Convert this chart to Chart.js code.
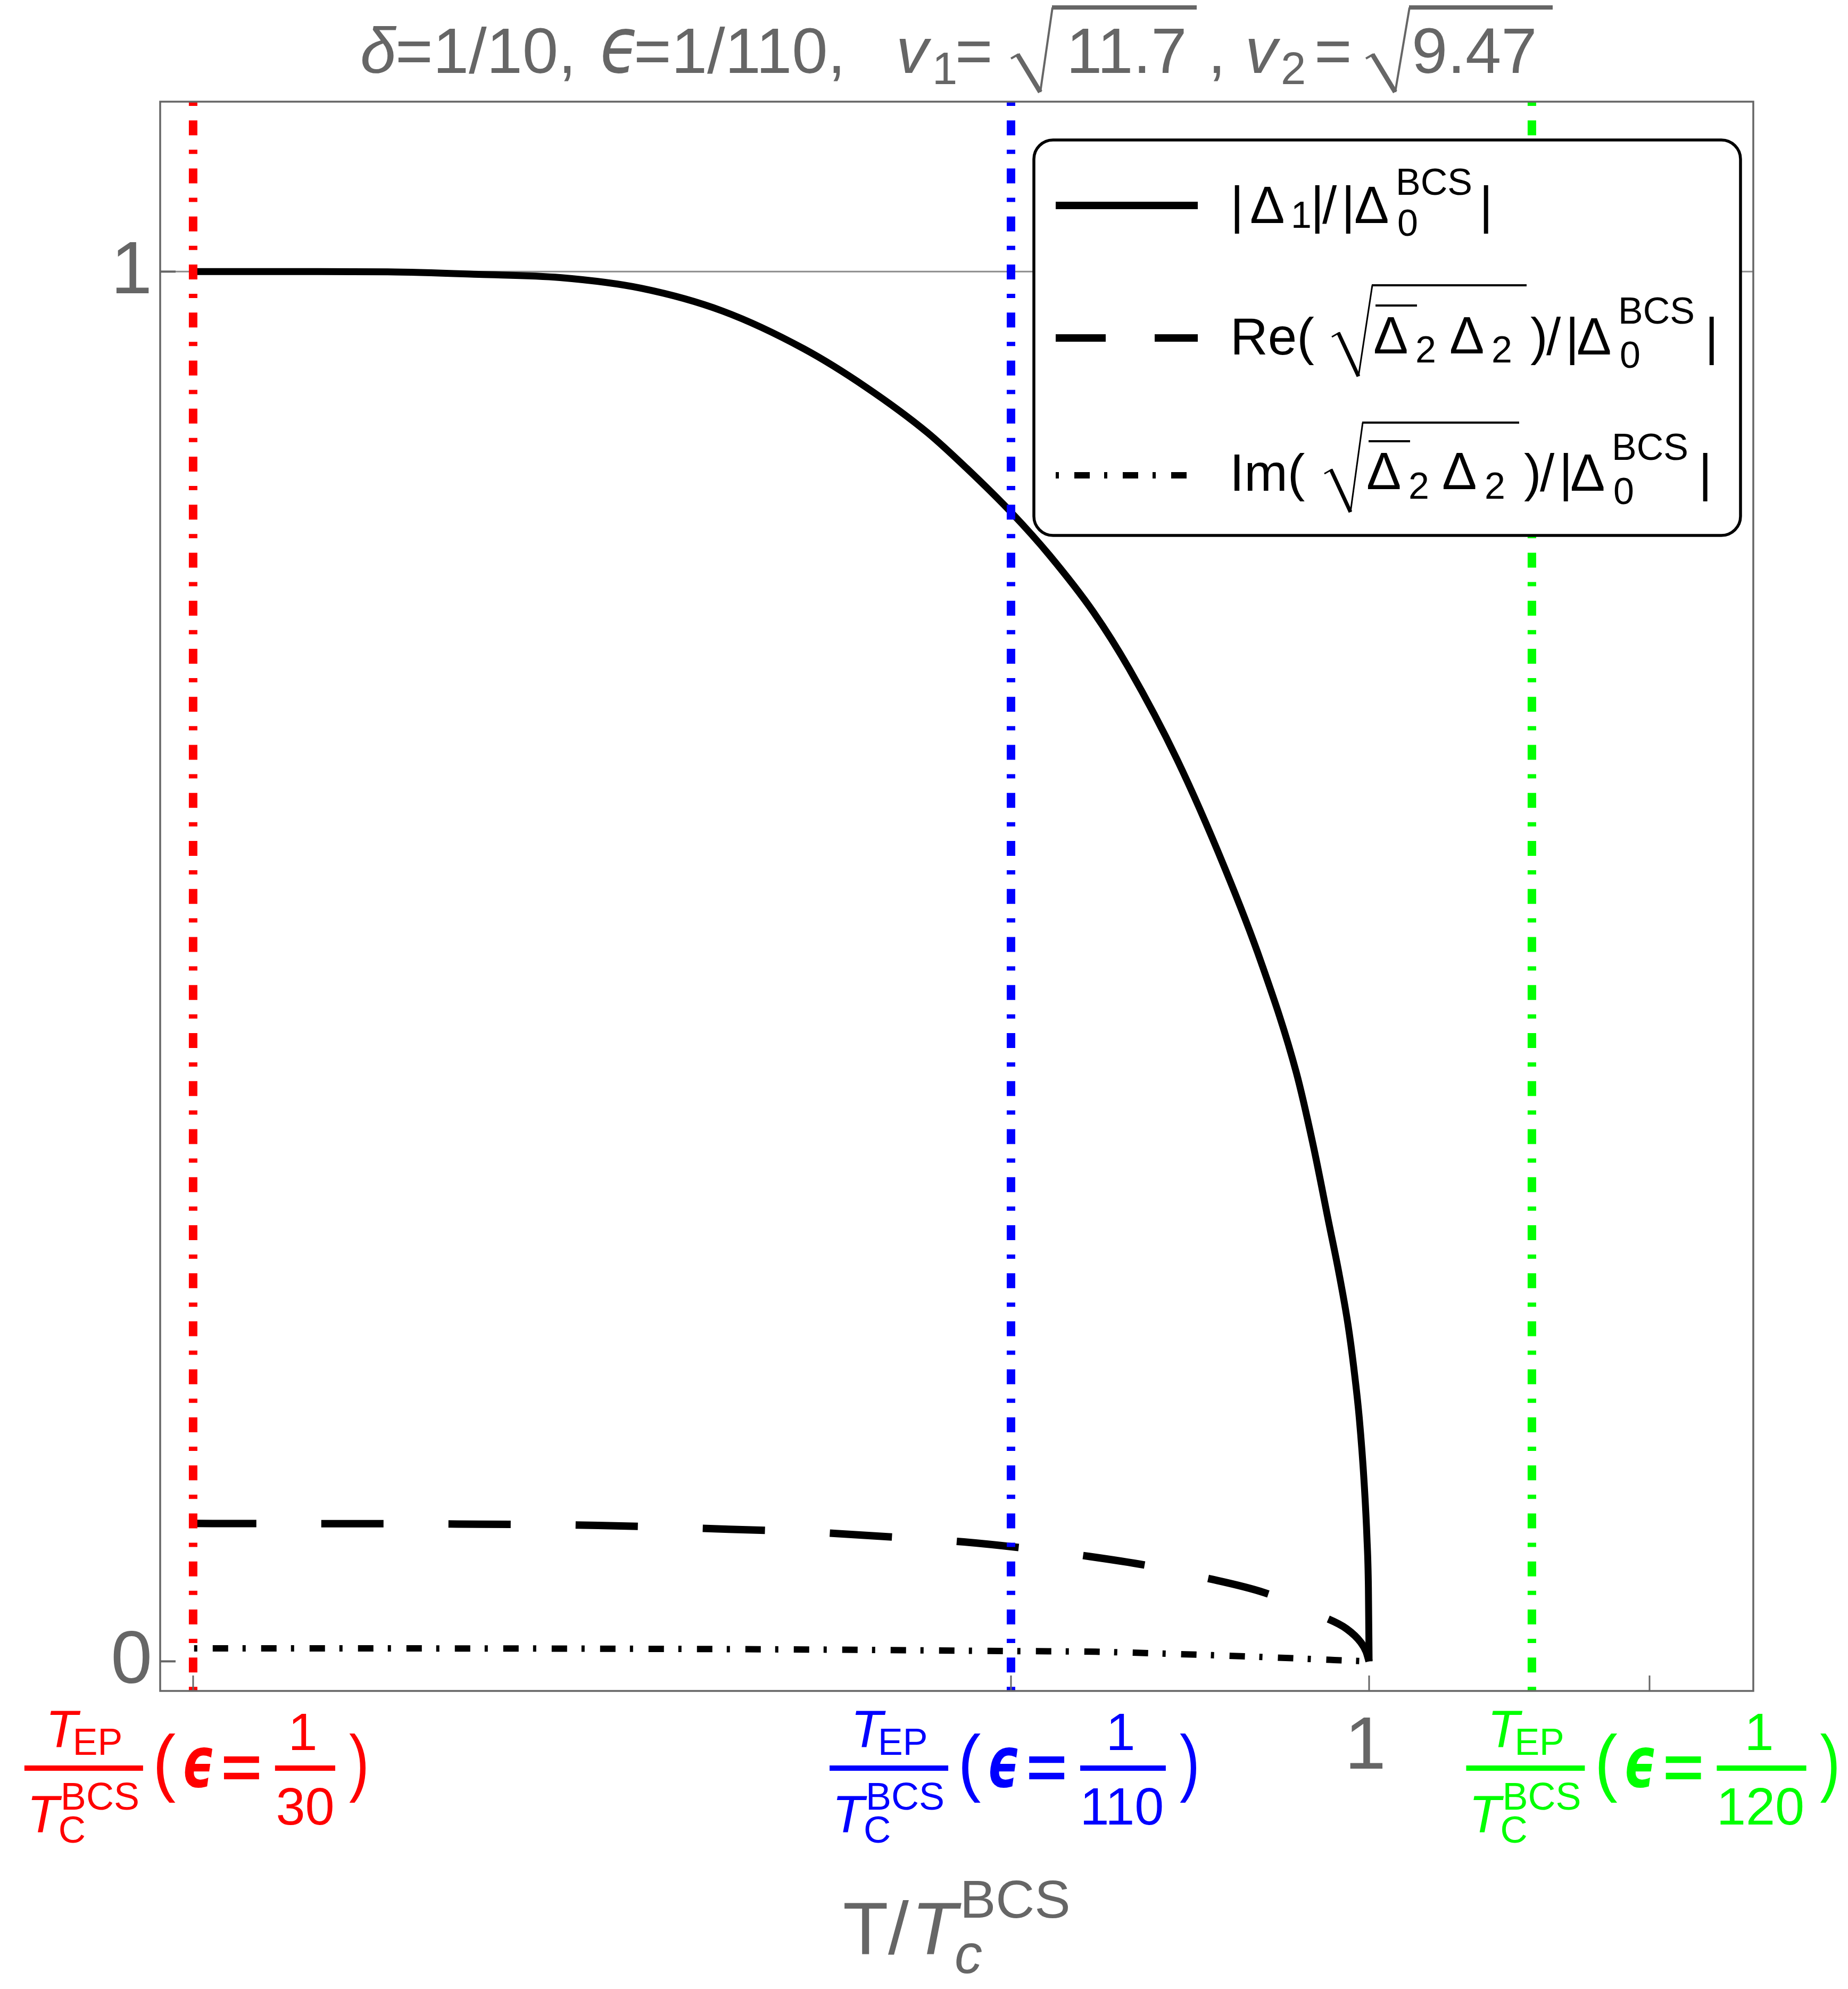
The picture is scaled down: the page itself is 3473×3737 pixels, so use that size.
<!DOCTYPE html>
<html>
<head>
<meta charset="utf-8">
<script src="https://cdn.jsdelivr.net/npm/chart.js@4.4.1/dist/chart.umd.min.js"></script>
<style>
  html, body { margin: 0; padding: 0; background: #fff; }
</style>
</head>
<body>
<canvas id="gapChart" width="3473" height="3737"></canvas>
<script>
// T / Tc^BCS values and the three curves
var tSolid = [0.162, 0.25, 0.30, 0.365, 0.423, 0.481, 0.539, 0.597, 0.641, 0.685, 0.713, 0.745, 0.772, 0.8034, 0.829, 0.863, 0.897, 0.923, 0.948, 0.960, 0.9715, 0.978, 0.985, 0.989, 0.993, 0.9965, 0.9985, 0.9995, 1.0]
var gapAbs = [1.0, 1.0, 0.9998, 0.998, 0.9957, 0.988, 0.9716, 0.9444, 0.917, 0.8842, 0.8585, 0.8265, 0.796, 0.755, 0.714, 0.649, 0.571, 0.503, 0.424, 0.372, 0.3144, 0.282, 0.242, 0.212, 0.175, 0.128, 0.088, 0.053, 0.0]

var tRe = [0.162, 0.25, 0.35, 0.45, 0.53, 0.60, 0.66, 0.711, 0.756, 0.801, 0.846, 0.881, 0.925, 0.966, 0.984, 0.994, 0.998, 1.0]
var gapRe = [0.0992, 0.0991, 0.0988, 0.0978, 0.0955, 0.093, 0.0895, 0.0859, 0.0812, 0.0754, 0.0682, 0.0606, 0.0495, 0.0326, 0.0234, 0.0138, 0.0069, 0.0]

var tIm = [0.162, 0.30, 0.45, 0.60, 0.669, 0.745, 0.805, 0.858, 0.912, 0.972, 0.998]
var gapIm = [0.0093, 0.0093, 0.0091, 0.0085, 0.0080, 0.0074, 0.0069, 0.0054, 0.0036, 0.0011, 0.0]

// exceptional-point temperatures (vertical lines) for eps = 1/30, 1/110, 1/120
var tEP = [0.1613, 0.7446, 1.1161]
var epDenoms = ['30', '110', '120']
var epColors = ['#ff0000', '#0000ff', '#00ff00']

// ticks on the bottom frame and what goes under them
var xTickVals = [0.1613, 0.7446, 1, 1.2]
var xTickKinds = ['ep0', 'ep1', '1', 'ep2']
var yTickVals = [0, 1]
var yTickLabels = ['0', '1']

var xMin = 0.1378, xMax = 1.274
var yMin = -0.0213, yMax = 1.1223

var FAM = '"Liberation Sans", Arial, Helvetica, sans-serif'
var GREEK = '"DejaVu Sans", sans-serif'
var GRAY = '#666666'

function zip(xs, ys) {
    var out = []
    for (var i = 0; i < xs.length; i++) out.push({x: xs[i], y: ys[i]})
    return out
}

function measure(c, s, font) {
    c.font = font
    c.textAlign = 'left'          // ink box numbers depend on the alignment in force
    c.textBaseline = 'alphabetic'
    return c.measureText(s)
}

// text placed by its ink box: x is the ink left edge (or centre / right edge)
function put(c, s, font, x, base, color, align) {
    var m = measure(c, s, font)
    var ox
    if (align === 'center') ox = x - (m.actualBoundingBoxRight - m.actualBoundingBoxLeft) / 2
    else if (align === 'right') ox = x - m.actualBoundingBoxRight
    else ox = x + m.actualBoundingBoxLeft
    c.fillStyle = color
    c.fillText(s, ox, base)
}

// stretch a glyph so its ink fills the box
function fit(c, s, font, x0, y0, x1, y1, color) {
    var m = measure(c, s, font)
    var w = m.actualBoundingBoxLeft + m.actualBoundingBoxRight
    var h = m.actualBoundingBoxAscent + m.actualBoundingBoxDescent
    c.save()
    c.translate(x0, y0)
    c.scale((x1 - x0) / w, (y1 - y0) / h)
    c.fillStyle = color
    c.fillText(s, m.actualBoundingBoxLeft, m.actualBoundingBoxAscent)
    c.restore()
}

function radical(c, hx, hy, bx, by, tx, ty, ex, thick, thin, bar, color) {
    c.save()
    c.strokeStyle = color
    c.lineCap = 'butt'
    c.lineJoin = 'miter'
    c.lineWidth = thin
    c.beginPath(); c.moveTo(hx, hy + 5); c.lineTo(hx + 14, hy - 3); c.stroke()
    c.lineWidth = thick
    c.beginPath(); c.moveTo(hx + 12, hy - 3); c.lineTo(bx, by); c.stroke()
    c.lineWidth = thin
    c.beginPath(); c.moveTo(bx, by); c.lineTo(tx, ty); c.stroke()
    c.lineWidth = bar
    c.beginPath(); c.moveTo(tx - 1, ty); c.lineTo(ex, ty); c.stroke()
    c.restore()
}

// T_EP / T_C^BCS (eps = 1/n) label centred under a tick
function epLabel(c, tx, color, denom) {
    var bar2 = measure(c, denom, '99px ' + FAM).width + 3
    var total = 471 + bar2 + 26 + 32
    var L = tx + 4 - total / 2
    c.fillStyle = color
    c.fillRect(L, 3317, 223, 10)
    put(c, 'T', 'italic 98px ' + FAM, L + 48, 3282, color)
    put(c, 'EP', '70px ' + FAM, L + 96, 3297, color)
    put(c, 'T', 'italic 98px ' + FAM, L + 13, 3442, color)
    put(c, 'C', '71px ' + FAM, L + 67, 3462, color)
    put(c, 'BCS', '72px ' + FAM, L + 73, 3400, color)
    fit(c, '(', '100px ' + FAM, L + 249, 3257, L + 284, 3387, color)
    fit(c, '\u03f5', 'bold italic 100px ' + GREEK, L + 300, 3282, L + 354, 3358, color)
    fit(c, '=', 'bold 100px ' + FAM, L + 375, 3300, L + 442, 3343, color)
    c.fillStyle = color
    c.fillRect(L + 471, 3317, bar2, 10)
    var bc = L + 471 + bar2 / 2
    put(c, '1', '99px ' + FAM, bc - 3, 3288, color, 'center')
    put(c, denom, '99px ' + FAM, bc, 3428, color, 'center')
    var rp = L + 471 + bar2 + 26
    fit(c, ')', '100px ' + FAM, rp, 3257, rp + 32, 3387, color)
}

var decor = {
    id: 'decor',
    beforeDatasetsDraw: function (chart) {
        var c = chart.ctx, a = chart.chartArea
        var gy = chart.scales.y.getPixelForValue(1)
        c.save()
        c.strokeStyle = '#8c8c8c'
        c.lineWidth = 3
        c.beginPath(); c.moveTo(a.left, gy); c.lineTo(a.right, gy); c.stroke()
        c.restore()
    },
    afterDatasetsDraw: function (chart) {
        var c = chart.ctx, a = chart.chartArea
        var xs = chart.scales.x, ys = chart.scales.y
        c.save()
        c.strokeStyle = GRAY
        c.lineWidth = 3.5
        c.strokeRect(a.left, a.top, a.right - a.left, a.bottom - a.top)
        // inward ticks
        c.lineWidth = 4
        yTickVals.forEach(function (v) {
            var py = ys.getPixelForValue(v)
            c.beginPath(); c.moveTo(a.left, py); c.lineTo(a.left + 29, py); c.stroke()
        })
        c.lineWidth = 3
        xTickVals.forEach(function (v) {
            var px = xs.getPixelForValue(v)
            c.beginPath(); c.moveTo(px, a.bottom); c.lineTo(px, a.bottom - 29); c.stroke()
        })
        c.restore()
    },
    afterDraw: function (chart) {
        var c = chart.ctx
        var xs = chart.scales.x, ys = chart.scales.y
        var ds = chart.data.datasets
        c.save()

        // y tick labels, right-aligned on the advance like the original
        c.font = '140px ' + FAM
        c.fillStyle = GRAY
        c.textAlign = 'right'
        c.textBaseline = 'alphabetic'
        yTickVals.forEach(function (v, i) {
            c.fillText(yTickLabels[i], 286, ys.getPixelForValue(v) + 41)
        })
        c.textAlign = 'left'

        // x tick labels
        xTickVals.forEach(function (v, i) {
            var px = xs.getPixelForValue(v)
            var k = xTickKinds[i]
            if (k === '1') put(c, '1', '140px ' + FAM, px - 5, 3323, GRAY, 'center')
            else {
                var j = +k.charAt(2)
                epLabel(c, px, epColors[j], epDenoms[j])
            }
        })

        // axis title  T/T_c^BCS
        put(c, 'T', '140px ' + FAM, 1587, 3671, GRAY)
        put(c, '/', '140px ' + FAM, 1669, 3671, GRAY)
        put(c, 'T', 'italic 140px ' + FAM, 1725, 3671, GRAY)
        put(c, 'c', 'italic 104px ' + FAM, 1797, 3707, GRAY)
        put(c, 'BCS', '101px ' + FAM, 1812, 3603, GRAY)

        // plot title
        var TF = '121px ' + FAM
        put(c, '\u03b4', 'italic ' + TF, 680, 137, GRAY)
        put(c, '=1/10,', TF, 748, 137, GRAY)
        fit(c, '\u03f5', 'italic 100px ' + GREEK, 1130, 52, 1194, 137, GRAY)
        put(c, '=1/110,', TF, 1196, 137, GRAY)
        put(c, 'v', 'italic ' + TF, 1690, 137, GRAY)
        put(c, '1', '85px ' + FAM, 1758, 158, GRAY)
        put(c, '=', TF, 1800, 137, GRAY)
        radical(c, 1900, 105, 1955, 173, 1978, 14, 2249, 9, 4, 8, GRAY)
        put(c, '11.7', TF, 2013, 137, GRAY)
        put(c, ',', TF, 2280, 137, GRAY)
        put(c, 'v', 'italic ' + TF, 2346, 137, GRAY)
        put(c, '2', '85px ' + FAM, 2411, 158, GRAY)
        put(c, '=', TF, 2475, 137, GRAY)
        radical(c, 2567, 105, 2622, 173, 2649, 14, 2918, 9, 4, 8, GRAY)
        put(c, '9.47', TF, 2658, 137, GRAY)

        // legend box
        var bx = 1943, by = 263, bw = 3271 - 1943, bh = 1006 - 263, r = 36
        c.beginPath()
        c.moveTo(bx + r, by)
        c.arcTo(bx + bw, by, bx + bw, by + bh, r)
        c.arcTo(bx + bw, by + bh, bx, by + bh, r)
        c.arcTo(bx, by + bh, bx, by, r)
        c.arcTo(bx, by, bx + bw, by, r)
        c.closePath()
        c.fillStyle = '#ffffff'
        c.fill()
        c.lineWidth = 5.5
        c.strokeStyle = '#000000'
        c.stroke()

        // legend samples, styled like the datasets
        var rows = [386, 635, 893]
        var sampleDash = [[], [94, 92], ds[5].borderDash]
        for (var i = 0; i < 3; i++) {
            var d = ds[3 + i]
            c.strokeStyle = d.borderColor
            c.lineWidth = i === 2 ? 12 : 14
            c.lineCap = 'butt'
            c.setLineDash(sampleDash[i])
            c.beginPath(); c.moveTo(1984, rows[i]); c.lineTo(2251, rows[i]); c.stroke()
        }
        c.setLineDash([])

        var F = '98px ' + FAM, SUB = '70px ' + FAM, SUP = '70px ' + FAM, K = '#000000'
        // row 1
        put(c, '|', F, 2320, 419, K)
        put(c, '\u0394', F, 2351, 419, K)
        put(c, '1', SUB, 2431, 428, K)
        put(c, '|', F, 2471, 419, K)
        put(c, '/', F, 2485, 419, K)
        put(c, '|', F, 2529, 419, K)
        put(c, '\u0394', F, 2547, 419, K)
        put(c, '0', SUB, 2628, 443, K)
        put(c, 'BCS', SUP, 2628, 366, K)
        put(c, '|', F, 2788, 419, K)
        // row 2
        put(c, 'Re(', F, 2320, 666, K)
        radical(c, 2503, 628, 2553, 707, 2579, 536, 2869, 7, 3, 4, K)
        put(c, '\u0394', F, 2583, 664, K)
        c.fillStyle = K
        c.fillRect(2585, 572, 78, 4)
        put(c, '2', SUB, 2663, 681, K)
        put(c, '\u0394', F, 2726, 664, K)
        put(c, '2', SUB, 2806, 681, K)
        put(c, ')', F, 2876, 666, K)
        put(c, '/', F, 2906, 666, K)
        put(c, '|', F, 2950, 666, K)
        put(c, '\u0394', F, 2965, 666, K)
        put(c, '0', SUB, 3046, 691, K)
        put(c, 'BCS', SUP, 3046, 608, K)
        put(c, '|', F, 3212, 666, K)
        // row 3
        put(c, 'Im(', F, 2320, 922, K)
        radical(c, 2489, 885, 2538, 962, 2561, 794, 2855, 7, 3, 4, K)
        put(c, '\u0394', F, 2570, 919, K)
        c.fillStyle = K
        c.fillRect(2572, 827, 78, 4)
        put(c, '2', SUB, 2650, 937, K)
        put(c, '\u0394', F, 2712, 919, K)
        put(c, '2', SUB, 2793, 937, K)
        put(c, ')', F, 2864, 922, K)
        put(c, '/', F, 2894, 922, K)
        put(c, '|', F, 2938, 922, K)
        put(c, '\u0394', F, 2953, 922, K)
        put(c, '0', SUB, 3034, 947, K)
        put(c, 'BCS', SUP, 3034, 864, K)
        put(c, '|', F, 3200, 922, K)
        c.restore()
    }
}

var datasets = []
for (var i = 0; i < tEP.length; i++) {
    datasets.push({
        label: 'T_EP(eps=1/' + epDenoms[i] + ')',
        data: [{x: tEP[i], y: yMax}, {x: tEP[i], y: yMin}],
        borderColor: epColors[i],
        borderWidth: 16,
        borderDash: [28, 27, 8, 27.25],
        borderDashOffset: 55,
        borderCapStyle: 'butt',
        showLine: true,
        pointRadius: 0,
        clip: 0,
        order: 0
    })
}
datasets.push({
    label: '|D1|/|D0BCS|',
    data: zip(tSolid, gapAbs),
    borderColor: '#000000',
    borderWidth: 13,
    cubicInterpolationMode: 'monotone',
    showLine: true, pointRadius: 0, clip: 0, order: 1
})
datasets.push({
    label: 'Re',
    data: zip(tRe, gapRe),
    borderColor: '#000000',
    borderWidth: 14,
    borderDash: [117, 122],
    borderCapStyle: 'butt',
    cubicInterpolationMode: 'monotone',
    showLine: true, pointRadius: 0, clip: 0, order: 1
})
datasets.push({
    label: 'Im',
    data: zip(tIm, gapIm),
    borderColor: '#000000',
    borderWidth: 12,
    borderDash: [6, 29, 29, 27],
    borderCapStyle: 'butt',
    cubicInterpolationMode: 'monotone',
    showLine: true, pointRadius: 0, clip: 0, order: 1
})

var chart = new Chart(document.getElementById('gapChart').getContext('2d'), {
    type: 'scatter',
    data: {datasets: datasets},
    options: {
        responsive: false,
        animation: false,
        devicePixelRatio: 1,
        layout: {padding: {left: 301, top: 191, right: 178, bottom: 560}},
        plugins: {legend: {display: false}, tooltip: {enabled: false}, title: {display: false}},
        scales: {
            x: {type: 'linear', min: xMin, max: xMax, display: false},
            y: {type: 'linear', min: yMin, max: yMax, display: false}
        }
    },
    plugins: [decor]
})
</script>
</body>
</html>
